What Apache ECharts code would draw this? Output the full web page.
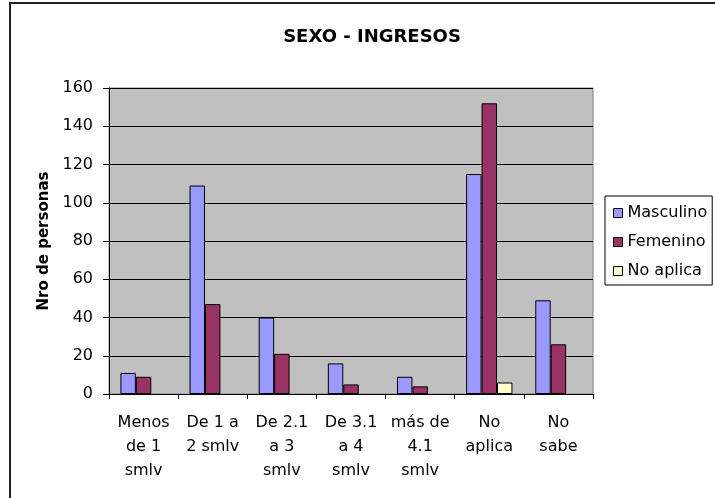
<!DOCTYPE html>
<html>
<head>
<meta charset="utf-8">
<script src="https://cdn.jsdelivr.net/npm/echarts@6/dist/echarts.min.js"></script>
<style>
  html, body { margin: 0; padding: 0; background: #fff; }
  #chart { width: 715px; height: 498px; }
</style>
</head>
<body>
<div id="chart"></div>
<script>
  // categorias de ingreso
  const categories = [
    'Menos\nde 1\nsmlv', 'De 1 a\n2 smlv', 'De 2.1\na 3\nsmlv', 'De 3.1\na 4\nsmlv',
    'más de\n4.1\nsmlv', 'No\naplica', 'No\nsabe'
  ]
  const masculino = [11, 109, 40, 16, 9, 115, 49]
  const femenino = [9, 47, 21, 5, 4, 152, 26]
  const noAplica = ['-', '-', '-', '-', '-', 6, '-']
  const yTicks = [0, 20, 40, 60, 80, 100, 120, 140, 160]

  const font = 'DejaVu Sans, sans-serif'
  const chart = echarts.init(document.getElementById('chart'))

  const barSeries = (name, data, color) => ({
    name: name,
    type: 'bar',
    data: data,
    barGap: 0,
    barCategoryGap: '33%',
    itemStyle: { color: color, borderColor: '#000', borderWidth: 1 },
    emphasis: { disabled: true }
  })

  chart.setOption({
    animation: false,
    backgroundColor: '#fff',
    textStyle: { fontFamily: font },
    title: {
      text: 'SEXO - INGRESOS',
      left: 367,
      textAlign: 'center',
      top: 23,
      textStyle: { fontSize: 18, fontWeight: 'bold', color: '#000', fontFamily: font }
    },
    legend: {
      orient: 'vertical',
      left: 605,
      top: 196,
      itemWidth: 9,
      itemHeight: 9,
      itemGap: 13,
      padding: [9, 5, 6, 8],
      borderColor: '#000',
      borderWidth: 1,
      icon: 'rect',
      itemStyle: { borderColor: '#000', borderWidth: 1 },
      textStyle: { fontSize: 16, color: '#000', fontFamily: font },
      data: ['Masculino', 'Femenino', 'No aplica']
    },
    grid: {
      left: 109,
      top: 88,
      width: 484,
      height: 306,
      show: true,
      backgroundColor: '#C0C0C0',
      borderColor: '#808080',
      borderWidth: 1
    },
    xAxis: {
      type: 'category',
      data: categories,
      axisLine: { lineStyle: { color: '#000' } },
      axisTick: { show: true, length: 5, lineStyle: { color: '#000' } },
      axisLabel: {
        color: '#000', fontSize: 16, lineHeight: 24, margin: 17,
        interval: 0, fontFamily: font
      }
    },
    yAxis: {
      type: 'value',
      min: yTicks[0],
      max: yTicks[yTicks.length - 1],
      interval: 20,
      name: 'Nro de personas',
      nameLocation: 'middle',
      nameGap: 54,
      nameTextStyle: { fontSize: 15, fontWeight: 'bold', color: '#000', fontFamily: font },
      axisLine: { show: true, lineStyle: { color: '#000' } },
      axisTick: { show: true, length: 6, lineStyle: { color: '#000' } },
      axisLabel: { color: '#000', fontSize: 16, margin: 16, fontFamily: font },
      splitLine: { lineStyle: { color: '#000', width: 1 } }
    },
    graphic: [{
      type: 'polyline',
      shape: { points: [[10, 498], [10, 3], [715, 3]] },
      style: { fill: 'none', stroke: '#222', lineWidth: 2 },
      silent: true
    }],
    series: [
      barSeries('Masculino', masculino, '#9999FF'),
      barSeries('Femenino', femenino, '#993366'),
      barSeries('No aplica', noAplica, '#FFFFCC')
    ]
  })
</script>
</body>
</html>
